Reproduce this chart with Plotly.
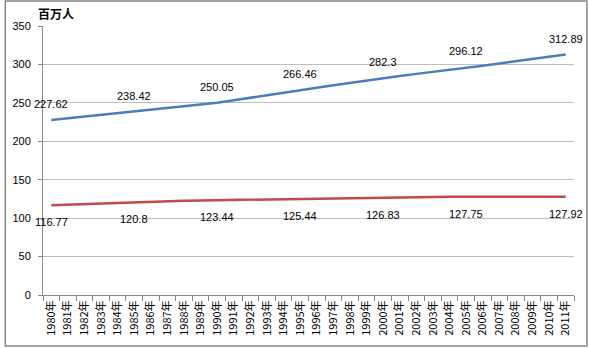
import plotly.graph_objects as go

years = [f"{y}年" for y in range(1980, 2012)]
usa = [227.62, 229.9, 232.2, 234.3, 236.3, 238.42, 240.5, 242.8, 245.0, 247.3,
       250.05, 253.5, 256.9, 260.3, 263.4, 266.46, 269.6, 272.9, 276.1, 279.3,
       282.3, 285.0, 287.7, 290.2, 292.9, 296.12, 298.4, 301.2, 304.1, 306.8,
       309.6, 312.89]
japan = [116.77, 117.6, 118.4, 119.2, 120.0, 120.8, 121.5, 122.0, 122.6, 123.1,
         123.44, 124.0, 124.5, 124.9, 125.2, 125.44, 125.8, 126.1, 126.4, 126.7,
         126.83, 127.1, 127.3, 127.6, 127.7, 127.75, 127.8, 127.85, 127.9, 127.9,
         127.9, 127.92]
label_idx = [0, 5, 10, 15, 20, 25, 31]
y_ticks = [0, 50, 100, 150, 200, 250, 300, 350]
unit_label = "百万人"

font = "Liberation Sans"
fig = go.Figure()
fig.add_trace(go.Scatter(x=years, y=usa, mode="lines",
                         line=dict(color="#4A7EBB", width=2.5), showlegend=False))
fig.add_trace(go.Scatter(x=years, y=japan, mode="lines",
                         line=dict(color="#BE4B48", width=2.5), showlegend=False))

annotations = []
for i in label_idx:
    annotations.append(dict(x=years[i], y=usa[i], text=f"{usa[i]:g}", showarrow=False,
                            yshift=16, xanchor="center", yanchor="middle",
                            font=dict(family=font, size=11, color="#000")))
    annotations.append(dict(x=years[i], y=japan[i], text=f"{japan[i]:g}", showarrow=False,
                            yshift=-17, xanchor="center", yanchor="middle",
                            font=dict(family=font, size=11, color="#000")))
annotations.append(dict(text=f"<b>{unit_label}</b>", xref="paper", yref="paper",
                        x=-0.013, y=1.048, xanchor="left", yanchor="middle",
                        showarrow=False, font=dict(family="Noto Sans CJK SC", size=12)))

fig.update_layout(
    width=589, height=348,
    margin=dict(l=39, r=15, t=26, b=53),
    paper_bgcolor="white", plot_bgcolor="white",
    font=dict(family=font, size=11, color="#000"),
    xaxis=dict(type="category", range=[-0.5, 31.5], tickangle=-90,
               showline=True, linecolor="#868686", linewidth=1,
               ticks="outside", tickson="boundaries", ticklen=5, tickcolor="#868686",
               showgrid=False, tickfont=dict(family="Noto Sans CJK SC", size=11)),
    yaxis=dict(range=[0, 350], tickvals=y_ticks, showline=True, linecolor="#868686",
               linewidth=1, gridcolor="#BEBEBE", gridwidth=1, zeroline=False,
               ticks="outside", ticklen=4, tickcolor="#868686", ticklabelstandoff=5,
               tickfont=dict(family=font, size=11)),
    shapes=[dict(type="rect", xref="paper", yref="paper",
                 x0=-0.071, x1=1.0243, y0=-0.1896, y1=1.093,
                 line=dict(color="#868686", width=1.5))],
    annotations=annotations,
)
fig.write_html("out.html")
